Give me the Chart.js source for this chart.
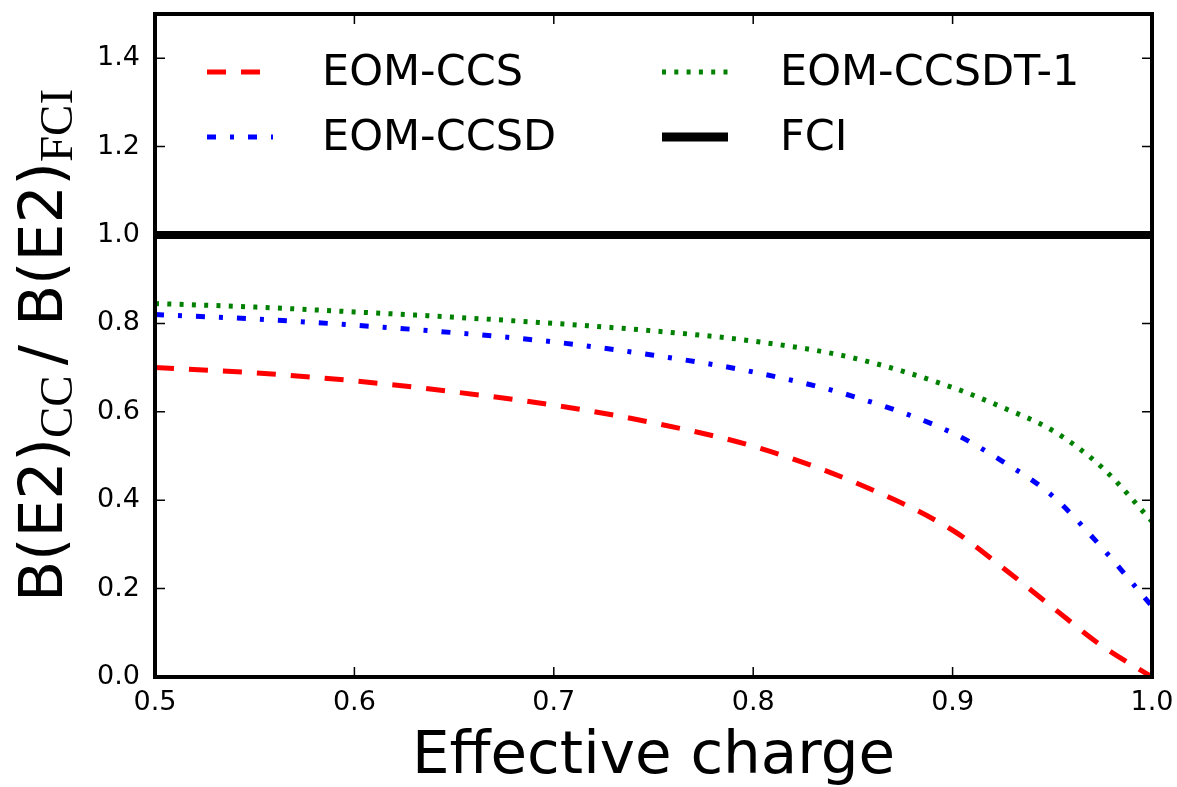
<!DOCTYPE html>
<html>
<head>
<meta charset="utf-8">
<script src="https://cdn.jsdelivr.net/npm/chart.js@4.4.1/dist/chart.umd.min.js"></script>
<style>
body { margin: 0; background: #fff; }
#wrap { position: relative; width: 1177px; height: 787px; }
#legend .lbl { position: absolute; font-family: "DejaVu Sans"; font-size: 43px; line-height: 50px; color: #000; white-space: nowrap; }
#legend svg { position: absolute; }
</style>
</head>
<body>
<div id="wrap">
  <canvas id="chart" width="1177" height="787"></canvas>
  <div id="legend"></div>
</div>
<script>
"use strict"

// effective charge (x) and B(E2)_CC / B(E2)_FCI ratios
const charges   = [0.5, 0.55, 0.6, 0.65, 0.7, 0.75, 0.8, 0.85, 0.9, 0.925, 0.95, 0.975, 1.0];
const eomCCS    = [0.700, 0.688, 0.670, 0.645, 0.615, 0.575, 0.522, 0.442, 0.332, 0.248, 0.158, 0.070, 0.0];
const eomCCSD   = [0.820, 0.810, 0.796, 0.779, 0.758, 0.728, 0.690, 0.635, 0.552, 0.488, 0.410, 0.292, 0.160];
const eomCCSDT1 = [0.845, 0.837, 0.826, 0.814, 0.800, 0.783, 0.760, 0.722, 0.655, 0.610, 0.558, 0.474, 0.352];
const fciCharges = [0.5, 1.0];
const fciRatio   = [1.0, 1.0];

const labels = ["EOM-CCS", "EOM-CCSD", "EOM-CCSDT-1", "FCI"];

let toPoints = function (xs, ys) {
    return xs.map((x, i) => ({x: x, y: ys[i]}));
}

let datasets = [
    { label: labels[0], data: toPoints(charges, eomCCS),    borderColor: "#ff0000", borderWidth: 5, borderDash: [19, 15] },
    { label: labels[1], data: toPoints(charges, eomCCSD),   borderColor: "#0000ff", borderWidth: 5, borderDash: [9, 14, 4, 14] },
    { label: labels[2], data: toPoints(charges, eomCCSDT1), borderColor: "#008000", borderWidth: 5, borderDash: [4, 8.3] },
    { label: labels[3], data: toPoints(fciCharges, fciRatio), borderColor: "#000000", borderWidth: 8, borderDash: [] }
];
datasets.forEach(ds => {
    ds.pointRadius = 0;
    ds.fill = false;
    ds.cubicInterpolationMode = "monotone";
});

// frame + inward ticks (matplotlib look) and the y title with subscripts
const frameTicks = {
    id: "frameTicks",
    afterDraw(chart) {
        const ctx = chart.ctx;
        const a = chart.chartArea;
        const xs = chart.scales.x, ys = chart.scales.y;
        ctx.save();
        ctx.strokeStyle = "#000";
        ctx.lineWidth = 1.5;
        ctx.beginPath();
        xs.ticks.forEach(t => {
            const px = xs.getPixelForValue(t.value);
            ctx.moveTo(px, a.bottom); ctx.lineTo(px, a.bottom - 10);
            ctx.moveTo(px, a.top); ctx.lineTo(px, a.top + 10);
        });
        ys.ticks.forEach(t => {
            const py = ys.getPixelForValue(t.value);
            ctx.moveTo(a.left, py); ctx.lineTo(a.left + 10, py);
            ctx.moveTo(a.right, py); ctx.lineTo(a.right - 10, py);
        });
        ctx.stroke();
        ctx.lineWidth = 4;
        ctx.strokeRect(a.left, a.top, a.right - a.left, a.bottom - a.top);

        // y title: B(E2)_CC / B(E2)_FCI
        const parts = [
            { t: "B(E2)",   font: "60px 'DejaVu Sans'",     dy: 0,  gap: 0 },
            { t: "CC",      font: "47px 'Liberation Serif'", dy: 10, gap: 0 },
            { t: "/ B(E2)", font: "60px 'DejaVu Sans'",     dy: 0,  gap: 10 },
            { t: "FCI",     font: "47px 'Liberation Serif'", dy: 10, gap: 0 }
        ];
        let total = 0;
        parts.forEach(p => { ctx.font = p.font; p.w = ctx.measureText(p.t).width; total += p.w + p.gap; });
        ctx.translate(62, (a.top + a.bottom) / 2);
        ctx.rotate(-Math.PI / 2);
        ctx.fillStyle = "#000";
        ctx.textBaseline = "alphabetic";
        let u = -total / 2;
        parts.forEach(p => {
            ctx.font = p.font;
            u += p.gap;
            ctx.fillText(p.t, u, p.dy);
            u += p.w;
        });
        ctx.restore();
    }
};

const ctx = document.getElementById("chart").getContext("2d");
const chart = new Chart(ctx, {
    type: "line",
    data: { datasets: datasets },
    options: {
        responsive: false,
        animation: false,
        layout: { padding: { top: 14, right: 25, left: 0, bottom: 0 } },
        plugins: { legend: { display: false }, tooltip: { enabled: false } },
        scales: {
            x: {
                type: "linear",
                min: 0.5,
                max: 1.0,
                grid: { display: false, drawTicks: false },
                border: { display: false },
                ticks: {
                    stepSize: 0.1,
                    padding: 10,
                    color: "#000",
                    font: { family: "DejaVu Sans", size: 27 },
                    callback: v => v.toFixed(1)
                },
                title: {
                    display: true,
                    text: "Effective charge",
                    color: "#000",
                    font: { family: "DejaVu Sans", size: 59.5, lineHeight: 1 },
                    padding: 0
                },
                afterFit: function (scale) {
                    scale.height = 110;
                    scale.paddingLeft = 0;
                    scale.paddingRight = 0;
                }
            },
            y: {
                min: 0,
                max: 1.5,
                grid: { display: false, drawTicks: false },
                border: { display: false },
                ticks: {
                    stepSize: 0.2,
                    includeBounds: false,
                    padding: 15,
                    color: "#000",
                    font: { family: "DejaVu Sans", size: 27 },
                    callback: v => v.toFixed(1)
                },
                afterFit: function (scale) {
                    scale.width = 155;
                    scale.paddingTop = 0;
                    scale.paddingBottom = 0;
                }
            }
        }
    },
    plugins: [frameTicks]
});

// two-column legend like the original, built from the datasets
let makeLegend = function () {
    const box = document.getElementById("legend");
    const cols = [[0, 1], [2, 3]];
    const sampleX = [207, 662];
    const textX = [322, 780];
    const rowY = [72, 137];
    cols.forEach((col, c) => {
        col.forEach((di, r) => {
            const ds = chart.data.datasets[di];
            const svgNS = "http://www.w3.org/2000/svg";
            const svg = document.createElementNS(svgNS, "svg");
            svg.setAttribute("width", 66);
            svg.setAttribute("height", 14);
            svg.style.left = sampleX[c] + "px";
            svg.style.top = (rowY[r] - 7) + "px";
            const line = document.createElementNS(svgNS, "line");
            line.setAttribute("x1", 0); line.setAttribute("x2", 66);
            line.setAttribute("y1", 7); line.setAttribute("y2", 7);
            line.setAttribute("stroke", ds.borderColor);
            line.setAttribute("stroke-width", ds.borderWidth === 8 ? 9 : ds.borderWidth);
            if (ds.borderDash.length) line.setAttribute("stroke-dasharray", ds.borderDash.join(" "));
            svg.appendChild(line);
            box.appendChild(svg);

            const lbl = document.createElement("div");
            lbl.className = "lbl";
            lbl.textContent = ds.label;
            lbl.style.left = textX[c] + "px";
            lbl.style.top = (rowY[r] - 27) + "px";
            box.appendChild(lbl);
        });
    });
}
makeLegend();
</script>
</body>
</html>
